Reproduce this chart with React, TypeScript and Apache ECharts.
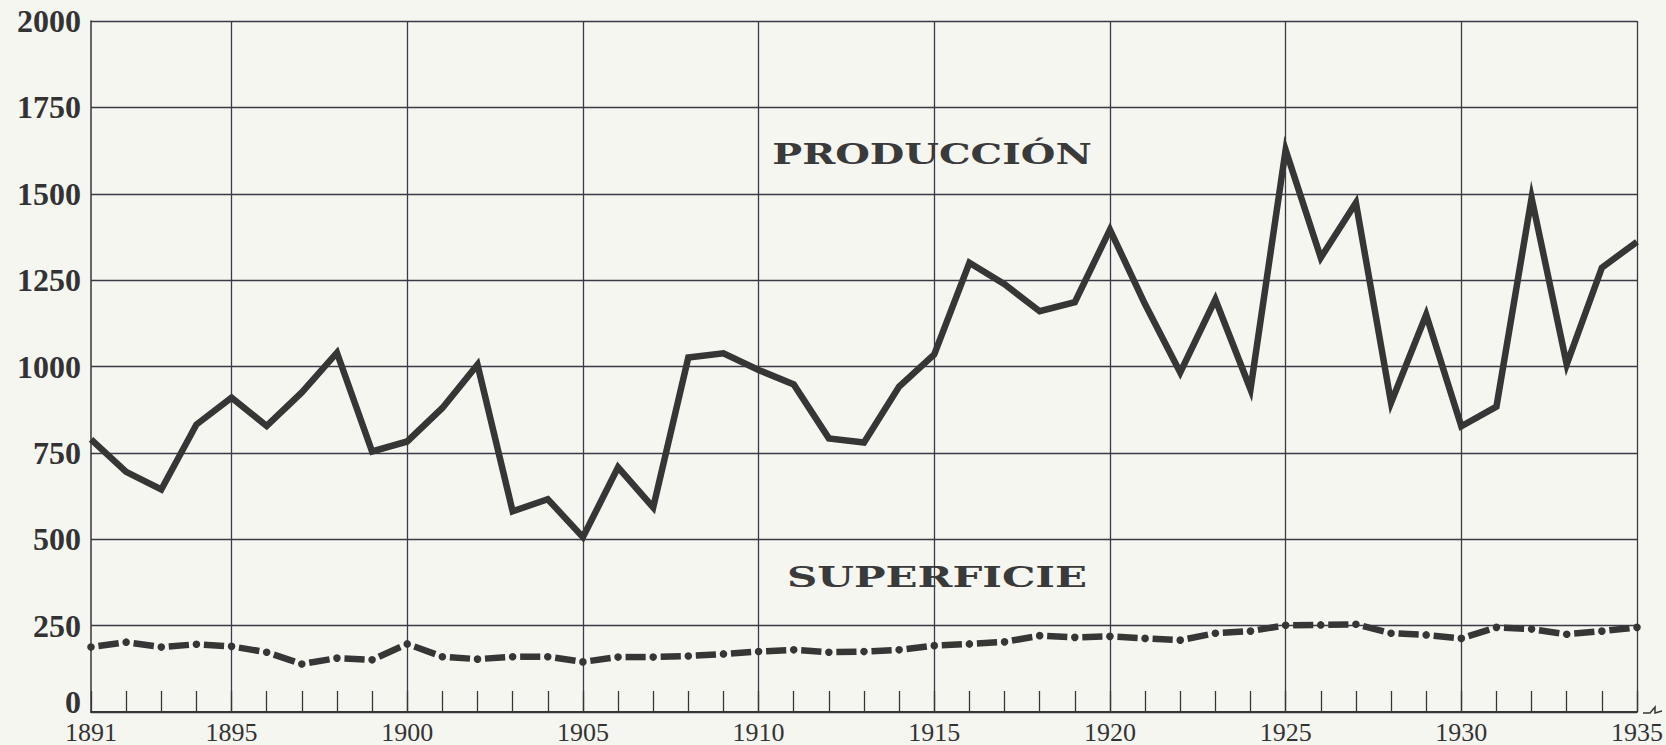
import React, { useEffect, useRef } from "react";
import * as echarts from "echarts";

const years = [
  "1891", "1892", "1893", "1894", "1895", "1896", "1897", "1898", "1899", "1900",
  "1901", "1902", "1903", "1904", "1905", "1906", "1907", "1908", "1909", "1910",
  "1911", "1912", "1913", "1914", "1915", "1916", "1917", "1918", "1919", "1920",
  "1921", "1922", "1923", "1924", "1925", "1926", "1927", "1928", "1929", "1930",
  "1931", "1932", "1933", "1934", "1935",
];

const produccion = [
  789, 695, 644, 832, 910, 828, 925, 1040, 754, 783,
  880, 1005, 581, 616, 506, 708, 592, 1026, 1038, 990,
  948, 792, 780, 942, 1035, 1300, 1238, 1160, 1186, 1396,
  1180, 983, 1194, 934, 1627, 1315, 1474, 895, 1150, 827,
  884, 1488, 1006, 1286, 1361,
];

const superficie = [
  188, 202, 188, 196, 190, 173, 139, 156, 151, 197,
  160, 153, 160, 160, 145, 159, 159, 162, 168, 175,
  180, 173, 175, 180, 192, 197, 203, 221, 216, 219,
  213, 208, 228, 234, 251, 252, 254, 228, 223, 213,
  245, 240, 225, 234, 245,
];

const labelProduccion = "PRODUCCIÓN";
const labelSuperficie = "SUPERFICIE";

const INK = "#363636";
const GRID = "#3a3a46";

export default function App() {
  const ref = useRef<HTMLDivElement>(null);

  useEffect(() => {
    if (!ref.current) return;
    const chart = echarts.init(ref.current, undefined, { renderer: "svg" });

    const option: any = {
      animation: false,
      backgroundColor: "#f6f6f1",
      grid: { left: 91, right: 23, top: 21, bottom: 32, containLabel: false },
      xAxis: {
        type: "category",
        data: years,
        boundaryGap: false,
        axisLine: { show: true, lineStyle: { color: INK, width: 2 } },
        axisTick: {
          show: true,
          inside: true,
          length: 21,
          interval: 0,
          lineStyle: { color: INK, width: 1.3 },
        },
        axisLabel: {
          interval: (i: number, v: string) => i === 0 || Number(v) % 5 === 0,
          margin: 7,
          color: "#333",
          fontFamily: "Liberation Serif",
          fontSize: 26,
        },
        splitLine: {
          show: true,
          interval: (i: number, v: string) => Number(v) % 5 === 0,
          lineStyle: { color: GRID, width: 1.3 },
        },
      },
      yAxis: {
        type: "value",
        min: 0,
        max: 2000,
        interval: 250,
        axisLine: { show: true, lineStyle: { color: INK, width: 1.5 } },
        axisTick: { show: false },
        axisLabel: {
          margin: 10,
          color: "#333",
          fontFamily: "Liberation Serif",
          fontWeight: "bold",
          fontSize: 32,
          formatter: (v: number) => (v === 0 ? "{zero|0}" : String(v)),
          rich: {
            zero: {
              fontFamily: "Liberation Serif",
              fontWeight: "bold",
              fontSize: 32,
              color: "#333",
              padding: [0, 0, 20, 0],
            },
          },
        },
        splitLine: { show: true, lineStyle: { color: GRID, width: 1.3 } },
      },
      graphic: [
        {
          type: "text",
          x: 932,
          y: 154,
          scaleX: 1.42,
          style: {
            text: labelProduccion,
            fill: "#3a3a3a",
            font: "bold 28px 'DejaVu Serif'",
            textAlign: "center",
            textVerticalAlign: "middle",
          },
        },
        {
          type: "text",
          x: 937,
          y: 577,
          scaleX: 1.5,
          style: {
            text: labelSuperficie,
            fill: "#3a3a3a",
            font: "bold 28px 'DejaVu Serif'",
            textAlign: "center",
            textVerticalAlign: "middle",
          },
        },
        {
          type: "polyline",
          shape: {
            points: [
              [1643, 713],
              [1650, 713],
              [1655, 707],
              [1655, 713],
              [1662, 711],
            ],
          },
          style: { stroke: INK, lineWidth: 1.5, fill: "none" },
        },
      ],
      series: [
        {
          name: "Producción",
          type: "line",
          data: produccion,
          symbol: "none",
          lineStyle: { color: INK, width: 6.5, join: "miter", miterLimit: 6 },
          z: 3,
        },
        {
          name: "Superficie",
          type: "custom",
          coordinateSystem: "cartesian2d",
          data: superficie.map((v, i) => [i, v]),
          z: 3,
          renderItem: (params: any, api: any) => {
            const i = params.dataIndex;
            const p = api.coord([i, superficie[i]]);
            const children: any[] = [
              {
                type: "circle",
                shape: { cx: p[0], cy: p[1], r: 3.8 },
                style: { fill: INK },
              },
            ];
            if (i > 0) {
              const q = api.coord([i - 1, superficie[i - 1]]);
              const dx = p[0] - q[0];
              const dy = p[1] - q[1];
              const len = Math.sqrt(dx * dx + dy * dy);
              const gap = 7.5;
              const ux = dx / len;
              const uy = dy / len;
              children.push({
                type: "line",
                shape: {
                  x1: q[0] + ux * gap,
                  y1: q[1] + uy * gap,
                  x2: p[0] - ux * gap,
                  y2: p[1] - uy * gap,
                },
                style: { stroke: INK, lineWidth: 6.5 },
              });
            }
            return { type: "group", children };
          },
        },
      ],
    };

    chart.setOption(option);
    return () => chart.dispose();
  }, []);

  return (
    <div
      ref={ref}
      style={{ position: "fixed", left: 0, top: 0, width: 1666, height: 745 }}
    />
  );
}
